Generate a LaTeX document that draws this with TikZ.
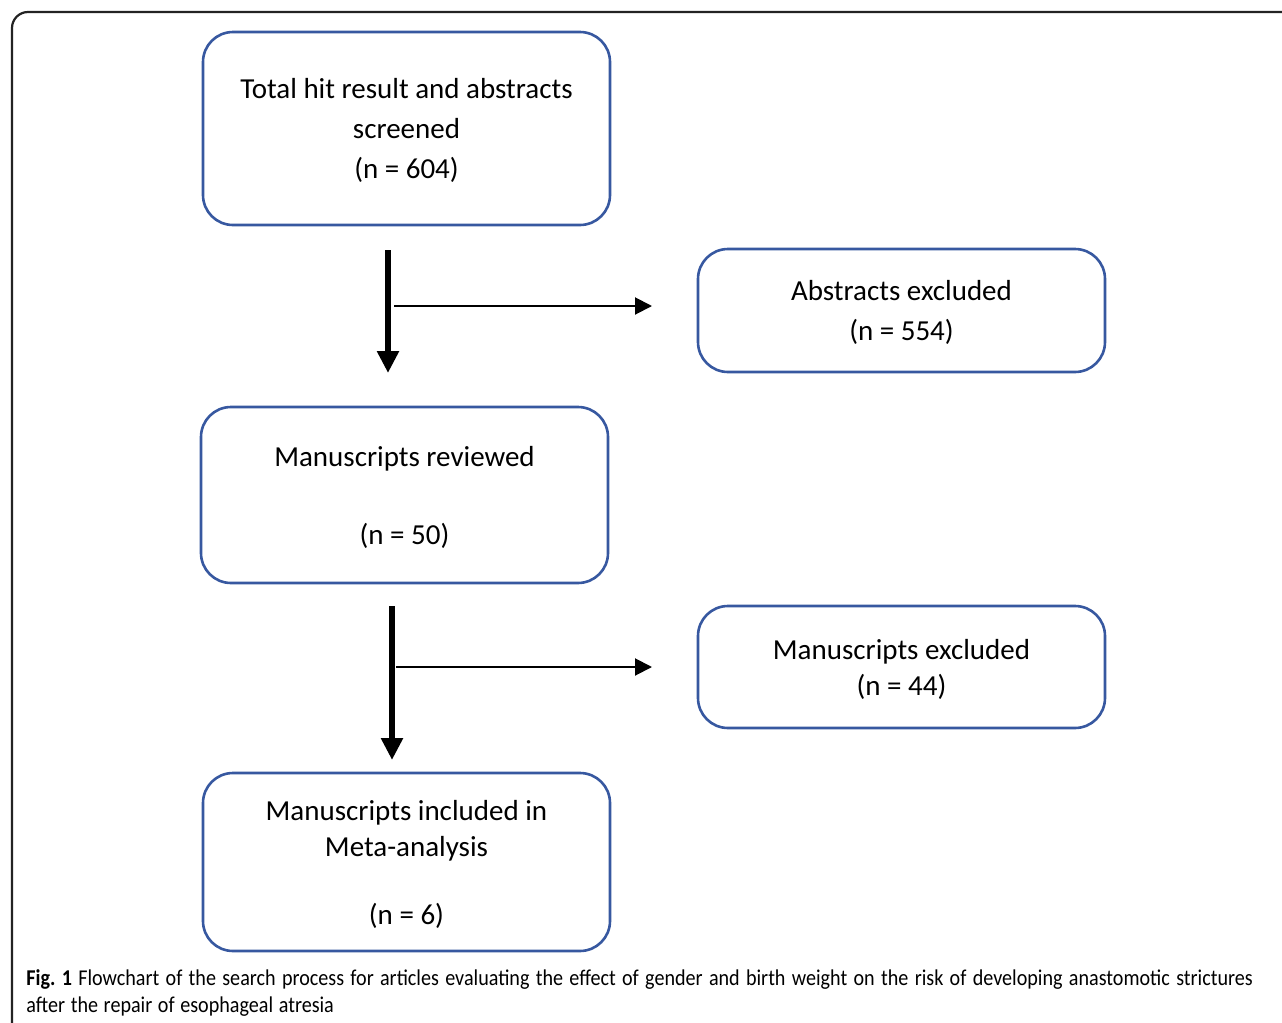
\documentclass[tikz,border=0pt]{standalone}
\usepackage{fontspec}
\setmainfont{Carlito}
\newfontfamily\capfont[FakeStretch=0.89]{Carlito}
\usetikzlibrary{arrows.meta}

\definecolor{boxblue}{RGB}{55,88,160}
\definecolor{framegray}{RGB}{35,35,35}

\begin{document}
\begin{tikzpicture}[x=0.5pt, y=-0.5pt,
  stage/.style={draw=boxblue, line width=1.3pt, rounded corners=15pt,
    minimum width=203.5pt, inner sep=0pt, align=center, text depth=0pt},
  wide/.style={font=\fontsize{14.5}{20}\selectfont},
  tight/.style={font=\fontsize{14.5}{18}\selectfont},
  mainflow/.style={line width=3.4pt, -{Triangle[width=10.5pt, length=11pt]}},
  sideflow/.style={line width=1pt, -{Triangle[width=8.5pt, length=8.5pt]}}]
  \useasboundingbox (0,0) rectangle (1282,1023);

  % Outer frame (runs off the page at right and bottom)
  \begin{scope}
    \clip (0,0) rectangle (1282,1023);
    \draw[framegray, line width=1.1pt, rounded corners=8pt] (12,12) rectangle (1320,1060);
  \end{scope}

  % Boxes
  \node[stage, wide, minimum height=96.5pt] (hits) at (406.5,128.5)
    {Total hit result and abstracts\\screened\\(n = 604)};
  \node[stage, wide, minimum height=61.5pt] (absex) at (901.5,310.5)
    {Abstracts excluded\\(n = 554)};
  \node[stage, wide, minimum height=88pt] (review) at (404.5,495)
    {Manuscripts reviewed\\[19pt](n = 50)};
  \node[stage, tight, minimum height=61pt] (manex) at (901.5,667)
    {Manuscripts excluded\\(n = 44)};
  \node[stage, tight, minimum height=89pt] (incl) at (406.5,862)
    {Manuscripts included in\\Meta-analysis\\[16pt](n = 6)};

  % Arrows
  \coordinate (a1top) at (388,250);
  \coordinate (a1end) at (388,373);
  \coordinate (a1mid) at (394,306);
  \coordinate (a1tip) at (652,306);
  \coordinate (a2top) at (392,606);
  \coordinate (a2end) at (392,760);
  \coordinate (a2mid) at (396,667);
  \coordinate (a2tip) at (652,667);

  \draw[mainflow] (a1top) -- (a1end);
  \draw[sideflow] (a1mid) -- (a1tip);
  \draw[mainflow] (a2top) -- (a2end);
  \draw[sideflow] (a2mid) -- (a2tip);

  % Caption
  \node[anchor=north west, text width=620pt, inner sep=0pt,
        font=\capfont\fontsize{11.3}{13.5}\selectfont] (caption) at (26,969)
    {\raggedright\spaceskip=0.25em plus 0.1em minus 0.04em
     \textbf{Fig.\ 1} Flowchart of the search process for articles evaluating the effect of gender and birth weight on the risk of developing anastomotic strictures after the repair of esophageal atresia};
\end{tikzpicture}
\end{document}
